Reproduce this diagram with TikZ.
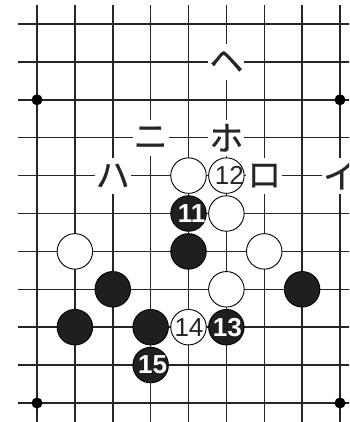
\documentclass[tikz,border=0pt]{standalone}
\usepackage{fontspec}
\setmainfont{Liberation Sans}
\newfontfamily\jpfont[FakeBold=0.6]{Noto Sans CJK JP}
\tikzset{
  gridline/.style={line width=1.5pt, draw=black!85},
  starpt/.style={circle, fill=black, inner sep=0pt, minimum size=11pt},
  wstone/.style={circle, draw=black, fill=white, line width=0.9pt, inner sep=0pt, minimum size=35.5pt},
  bstone/.style={circle, draw=black, fill=black!88, line width=0.9pt, inner sep=0pt, minimum size=35.5pt},
  wnum/.style={font=\fontsize{26}{26}\selectfont, text=black!85},
  bnum/.style={font=\fontsize{26}{26}\selectfont\bfseries, text=white},
  kanalabel/.style={fill=white, inner sep=0pt, minimum size=36pt, font=\jpfont\fontsize{34}{34}\selectfont, text=black!85}
}
\begin{document}
\begin{tikzpicture}[x=37.875pt,y=-37.9pt]
\useasboundingbox (-37pt,24pt) rectangle (312pt,-398pt);
\clip (-37pt,24pt) rectangle (312pt,-398pt);
% grid
\foreach \c in {0,...,8} \draw[gridline] (\c,-0.5) -- (\c,10.5);
\foreach \r in {0,...,10} \draw[gridline] (-0.5,\r) -- (8.5,\r);
% star points
\node[starpt] (s1) at (0,2) {};
\node[starpt] (s2) at (8,2) {};
\node[starpt] (s3) at (0,10) {};
\node[starpt] (s4) at (8,10) {};
% white stones
\node[wstone] (w1) at (4,4) {};
\node[wstone] (w12) at (5,4) {};
\node[wnum, xshift=3pt] (t12) at (w12) {12};
\node[wstone] (w2) at (5,5) {};
\node[wstone] (w3) at (1,6) {};
\node[wstone] (w4) at (6,6) {};
\node[wstone] (w5) at (5,7) {};
\node[wstone] (w14) at (4,8) {};
\node[wnum, xshift=0.5pt] (t14) at (w14) {14};
% black stones
\node[bstone] (b11) at (4,5) {};
\node[bnum, xshift=3pt] (t11) at (b11) {11};
\node[bstone] (b1) at (4,6) {};
\node[bstone] (b2) at (2,7) {};
\node[bstone] (b3) at (7,7) {};
\node[bstone] (b4) at (1,8) {};
\node[bstone] (b5) at (3,8) {};
\node[bstone] (b13) at (5,8) {};
\node[bnum, xshift=1pt] (t13) at (b13) {13};
\node[bstone] (b15) at (3,9) {};
\node[bnum, xshift=2pt] (t15) at (b15) {15};
% labels
\node[kanalabel] (lhe) at (5,1) {ヘ};
\node[kanalabel] (lho) at (5,3) {ホ};
\node[kanalabel] (lni) at (3,3) {ニ};
\node[kanalabel] (lha) at (2,4) {ハ};
\node[kanalabel] (lro) at (6,4) {ロ};
\node[kanalabel] (li) at (8,4) {イ};
\end{tikzpicture}
\end{document}
